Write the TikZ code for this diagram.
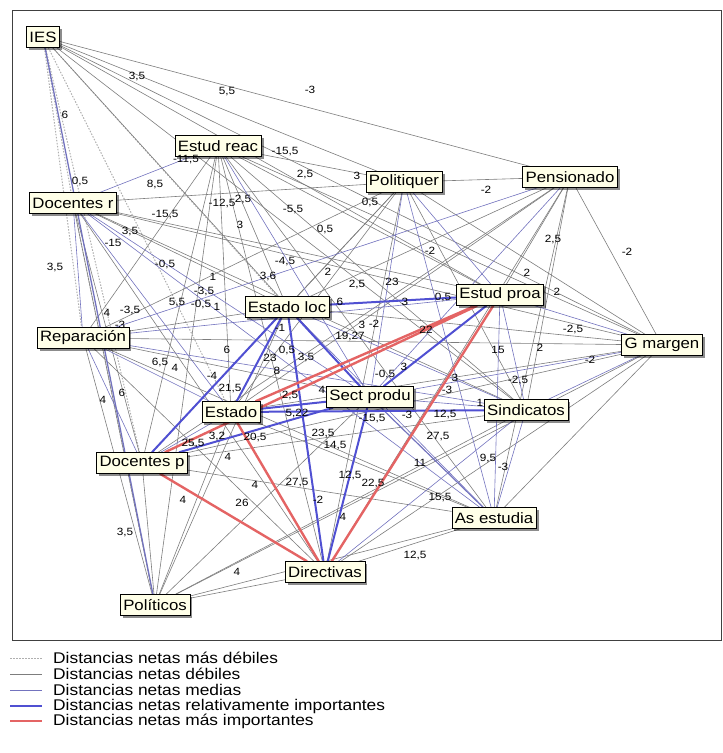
\documentclass[tikz,border=0pt]{standalone}
\usepackage{fontspec}
\setmainfont{Liberation Sans}[FakeStretch=1.12]
\usepackage{tikz}
\usetikzlibrary{shadows,backgrounds}

\definecolor{cream}{RGB}{255,255,232}
\definecolor{faintgray}{RGB}{175,175,175}
\definecolor{weakgray}{RGB}{125,125,125}
\definecolor{midblue}{RGB}{115,115,190}
\definecolor{strongblue}{RGB}{80,80,210}
\definecolor{topred}{RGB}{228,100,100}

\tikzset{
  actor/.style={draw,fill=cream,inner xsep=3pt,inner ysep=2pt,minimum height=21pt,
    font=\fontsize{15}{15}\selectfont,
    drop shadow={shadow xshift=2.5pt,shadow yshift=-2.5pt,fill=black,opacity=.45}},
  lbl/.style={inner sep=0pt,font=\fontsize{10.5}{10.5}\selectfont},
  legtext/.style={anchor=west,inner sep=0pt,font=\fontsize{15.5}{15.5}\selectfont},
  netfaint/.style={faintgray,line width=1pt,dash pattern=on 1.5pt off 1.5pt},
  netweak/.style={weakgray,line width=.6pt},
  netmid/.style={midblue,line width=.6pt},
  netstrong/.style={strongblue,line width=2pt},
  nettop/.style={topred,line width=2.4pt}
}

\begin{document}
\begin{tikzpicture}[x=1pt,y=-1pt]
  \useasboundingbox (0,0) rectangle (723,753);
  % actors
  \node[actor] (ies) at (43,37) {IES};
  \node[actor] (estreac) at (218,146) {Estud reac};
  \node[actor] (docr) at (73,203) {Docentes r};
  \node[actor] (polr) at (404,182) {Politiquer};
  \node[actor] (pens) at (570,177) {Pensionado};
  \node[actor] (estloc) at (287,307) {Estado loc};
  \node[actor] (estproa) at (500,295) {Estud proa};
  \node[actor] (repar) at (83,338) {Reparación};
  \node[actor] (gmar) at (662,345) {G margen};
  \node[actor] (sect) at (370,397) {Sect produ};
  \node[actor] (estado) at (231,412) {Estado};
  \node[actor] (sind) at (526,410) {Sindicatos};
  \node[actor] (docp) at (142,463) {Docentes p};
  \node[actor] (asest) at (494,518) {As estudia};
  \node[actor] (direc) at (325,572) {Directivas};
  \node[actor] (polit) at (155,605) {Políticos};

  \begin{scope}[on background layer]
  \draw[black!75,line width=.8pt] (12,10) rectangle (721,640);
  % weakest
  \draw[netfaint] (ies) -- (docr);
  \draw[netfaint] (ies) -- (repar);
  \draw[netfaint] (ies) -- (estado);
  \draw[netfaint] (ies) -- (estloc);
  \draw[netfaint] (ies) -- (docp);
  \draw[netfaint] (docr) -- (polit);
  % weak
  \draw[netweak] (ies) -- (pens);
  \draw[netweak] (ies) -- (polr);
  \draw[netweak] (ies) -- (estproa);
  \draw[netweak] (ies) -- (gmar);
  \draw[netweak] (ies) -- (sect);
  \draw[netweak] (ies) -- (sind);
  \draw[netweak] (estreac) -- (polr);
  \draw[netweak] (estreac) -- (gmar);
  \draw[netweak] (estreac) -- (estproa);
  \draw[netweak] (estreac) -- (sind);
  \draw[netweak] (estreac) -- (asest);
  \draw[netweak] (estreac) -- (estloc);
  \draw[netweak] (estreac) -- (estado);
  \draw[netweak] (estreac) -- (direc);
  \draw[netweak] (estreac) -- (docp);
  \draw[netweak] (estreac) -- (polit);
  \draw[netweak] (estreac) -- (repar);
  \draw[netweak] (docr) -- (polr);
  \draw[netweak] (docr) -- (estloc);
  \draw[netweak] (docr) -- (estproa);
  \draw[netweak] (docr) -- (sind);
  \draw[netweak] (docr) -- (gmar);
  \draw[netweak] (docr) -- (direc);
  \draw[netweak] (docr) -- (docp);
  \draw[netweak] (docr) -- (polit);
  \draw[netweak] (polr) -- (pens);
  \draw[netweak] (polr) -- (estloc);
  \draw[netweak] (polr) -- (estado);
  \draw[netweak] (polr) -- (docp);
  \draw[netweak] (polr) -- (repar);
  \draw[netweak] (polr) -- (direc);
  \draw[netweak] (polr) -- (sind);
  \draw[netweak] (polr) -- (gmar);
  \draw[netweak] (pens) -- (gmar);
  \draw[netweak] (pens) -- (sind);
  \draw[netweak] (pens) -- (asest);
  \draw[netweak] (pens) -- (estproa);
  \draw[netweak] (pens) -- (estloc);
  \draw[netweak] (pens) -- (estado);
  \draw[netweak] (pens) -- (docp);
  \draw[netweak] (pens) -- (direc);
  \draw[netweak] (repar) -- (gmar);
  \draw[netweak] (repar) -- (estloc);
  \draw[netweak] (repar) -- (sect);
  \draw[netweak] (repar) -- (asest);
  \draw[netweak] (repar) -- (direc);
  \draw[netweak] (repar) -- (polit);
  \draw[netweak] (gmar) -- (estloc);
  \draw[netweak] (gmar) -- (estado);
  \draw[netweak] (gmar) -- (docp);
  \draw[netweak] (gmar) -- (asest);
  \draw[netweak] (gmar) -- (direc);
  \draw[netweak] (gmar) -- (polit);
  \draw[netweak] (estloc) -- (polit);
  \draw[netweak] (estado) -- (polit);
  \draw[netweak] (docp) -- (polit);
  \draw[netweak] (direc) -- (polit);
  \draw[netweak] (asest) -- (polit);
  \draw[netweak] (sect) -- (polit);
  \draw[netweak] (sind) -- (polit);
  \draw[netweak] (asest) -- (direc);
  \draw[netweak] (estado) -- (asest);
  \draw[netweak] (docp) -- (asest);
  \draw[netweak] (docp) -- (sind);
  % medium
  \draw[netmid,line width=1.3pt] (ies) -- (polit);
  \draw[netmid] (estreac) -- (docr);
  \draw[netmid] (estreac) -- (sect);
  \draw[netmid] (docr) -- (sect);
  \draw[netmid] (docr) -- (estado);
  \draw[netmid] (docr) -- (asest);
  \draw[netmid] (docr) -- (repar);
  \draw[netmid] (polr) -- (sect);
  \draw[netmid] (polr) -- (estproa);
  \draw[netmid] (polr) -- (asest);
  \draw[netmid] (pens) -- (sect);
  \draw[netmid] (pens) -- (repar);
  \draw[netmid] (repar) -- (estproa);
  \draw[netmid] (repar) -- (sind);
  \draw[netmid] (repar) -- (estado);
  \draw[netmid] (repar) -- (docp);
  \draw[netmid] (gmar) -- (sect);
  \draw[netmid] (gmar) -- (sind);
  \draw[netmid] (gmar) -- (estproa);
  \draw[netmid] (estproa) -- (sind);
  \draw[netmid] (estproa) -- (asest);
  \draw[netmid] (estproa) -- (estado);
  \draw[netmid] (estloc) -- (sind);
  \draw[netmid] (estloc) -- (asest);
  \draw[netmid,line width=1.2pt] (sect) -- (asest);
  \draw[netmid] (sect) -- (sind);
  \draw[netmid] (sind) -- (asest);
  \draw[netmid] (estado) -- (docp);
  \draw[netmid] (sind) -- (direc);
  % relatively important
  \draw[netstrong] (estloc) -- (estproa);
  \draw[netstrong] (estloc) -- (docp);
  \draw[netstrong] (estloc) -- (estado);
  \draw[netstrong] (estloc) -- (direc);
  \draw[netstrong] (estloc) -- (sect);
  \draw[netstrong] (estproa) -- (sect);
  \draw[netstrong] (sect) -- (direc);
  \draw[netstrong] (sect) -- (estado);
  \draw[netstrong] (docp) -- (sect);
  \draw[netstrong] (estado) -- (sind);
  % most important
  \draw[nettop] (estproa) -- (estado);
  \draw[nettop] (estproa) -- (docp);
  \draw[nettop] (estproa) -- (direc);
  \draw[nettop] (docp) -- (direc);
  \draw[nettop] (estado) -- (direc);
  \end{scope}

  % distance labels
  \node[lbl] (d1) at (137,77) {3,5};
  \node[lbl] (d2) at (227,92) {5,5};
  \node[lbl] (d3) at (310,90) {-3};
  \node[lbl] (d4) at (65,115) {6};
  \node[lbl] (d5) at (285,152) {-15,5};
  \node[lbl] (d6) at (186,160) {-11,5};
  \node[lbl] (d7) at (305,175) {2,5};
  \node[lbl] (d8) at (357,176) {3};
  \node[lbl] (d9) at (80,182) {0,5};
  \node[lbl] (d10) at (155,185) {8,5};
  \node[lbl] (d11) at (222,204) {-12,5};
  \node[lbl] (d12) at (243,200) {2,5};
  \node[lbl] (d13) at (165,215) {-15,5};
  \node[lbl] (d14) at (293,210) {-5,5};
  \node[lbl] (d15) at (130,232) {3,5};
  \node[lbl] (d16) at (240,225) {3};
  \node[lbl] (d17) at (325,230) {0,5};
  \node[lbl] (d18) at (113,243) {-15};
  \node[lbl] (d19) at (55,268) {3,5};
  \node[lbl] (d20) at (165,265) {-0,5};
  \node[lbl] (d21) at (213,277) {1};
  \node[lbl] (d22) at (268,277) {3,6};
  \node[lbl] (d23) at (285,262) {-4,5};
  \node[lbl] (d24) at (328,272) {2};
  \node[lbl] (d25) at (357,285) {2,5};
  \node[lbl] (d26) at (392,282) {23};
  \node[lbl] (d27) at (370,203) {0,5};
  \node[lbl] (d28) at (486,190) {-2};
  \node[lbl] (d29) at (430,251) {-2};
  \node[lbl] (d30) at (553,240) {2,5};
  \node[lbl] (d31) at (627,252) {-2};
  \node[lbl] (d32) at (527,273) {2};
  \node[lbl] (d33) at (557,292) {2};
  \node[lbl] (d34) at (443,298) {0,5};
  \node[lbl] (d35) at (405,302) {3};
  \node[lbl] (d36) at (340,302) {6};
  \node[lbl] (d37) at (177,303) {5,5};
  \node[lbl] (d38) at (201,305) {-0,5};
  \node[lbl] (d39) at (204,292) {-3,5};
  \node[lbl] (d40) at (217,307) {1};
  \node[lbl] (d41) at (107,313) {4};
  \node[lbl] (d42) at (130,310) {-3,5};
  \node[lbl] (d43) at (120,325) {-3};
  \node[lbl] (d44) at (280,328) {-1};
  \node[lbl] (d45) at (350,337) {19,27};
  \node[lbl] (d46) at (362,325) {3};
  \node[lbl] (d47) at (374,324) {-2};
  \node[lbl] (d48) at (426,330) {22};
  \node[lbl] (d49) at (573,330) {-2,5};
  \node[lbl] (d50) at (498,350) {15};
  \node[lbl] (d51) at (540,348) {2};
  \node[lbl] (d52) at (590,360) {-2};
  \node[lbl] (d53) at (227,350) {6};
  \node[lbl] (d54) at (287,350) {0,5};
  \node[lbl] (d55) at (306,357) {3,5};
  \node[lbl] (d56) at (270,358) {23};
  \node[lbl] (d57) at (277,371) {8};
  \node[lbl] (d58) at (160,362) {6,5};
  \node[lbl] (d59) at (175,368) {4};
  \node[lbl] (d60) at (212,376) {-4};
  \node[lbl] (d61) at (230,388) {21,5};
  \node[lbl] (d62) at (122,393) {6};
  \node[lbl] (d63) at (103,400) {4};
  \node[lbl] (d64) at (385,374) {-0,5};
  \node[lbl] (d65) at (404,367) {3};
  \node[lbl] (d66) at (455,378) {3};
  \node[lbl] (d67) at (447,390) {-3};
  \node[lbl] (d68) at (518,380) {-2,5};
  \node[lbl] (d69) at (290,395) {2,5};
  \node[lbl] (d70) at (322,390) {4};
  \node[lbl] (d71) at (297,413) {5,22};
  \node[lbl] (d72) at (480,403) {1};
  \node[lbl] (d73) at (372,419) {-15,5};
  \node[lbl] (d74) at (407,415) {-3};
  \node[lbl] (d75) at (445,414) {12,5};
  \node[lbl] (d76) at (438,436) {27,5};
  \node[lbl] (d77) at (323,433) {23,5};
  \node[lbl] (d78) at (335,446) {14,5};
  \node[lbl] (d79) at (255,437) {20,5};
  \node[lbl] (d80) at (217,436) {3,2};
  \node[lbl] (d81) at (193,443) {25,5};
  \node[lbl] (d82) at (228,457) {4};
  \node[lbl] (d83) at (420,463) {11};
  \node[lbl] (d84) at (488,458) {9,5};
  \node[lbl] (d85) at (503,467) {-3};
  \node[lbl] (d86) at (350,475) {12,5};
  \node[lbl] (d87) at (373,483) {22,5};
  \node[lbl] (d88) at (440,498) {15,5};
  \node[lbl] (d89) at (297,482) {27,5};
  \node[lbl] (d90) at (255,485) {4};
  \node[lbl] (d91) at (318,500) {-2};
  \node[lbl] (d92) at (183,500) {4};
  \node[lbl] (d93) at (242,503) {26};
  \node[lbl] (d94) at (343,517) {4};
  \node[lbl] (d95) at (125,532) {3,5};
  \node[lbl] (d96) at (237,572) {4};
  \node[lbl] (d97) at (415,555) {12,5};

  % legend
  \draw[netfaint] (10,658) -- (42,658);
  \node[legtext] (k1) at (53,658) {Distancias netas más débiles};
  \draw[netweak] (10,674) -- (42,674);
  \node[legtext] (k2) at (53,674) {Distancias netas débiles};
  \draw[netmid] (10,690) -- (42,690);
  \node[legtext] (k3) at (53,690) {Distancias netas medias};
  \draw[netstrong] (10,706) -- (42,706);
  \node[legtext] (k4) at (53,706) {Distancias netas relativamente importantes};
  \draw[nettop] (10,721) -- (42,721);
  \node[legtext] (k5) at (53,721) {Distancias netas más importantes};
\end{tikzpicture}
\end{document}
